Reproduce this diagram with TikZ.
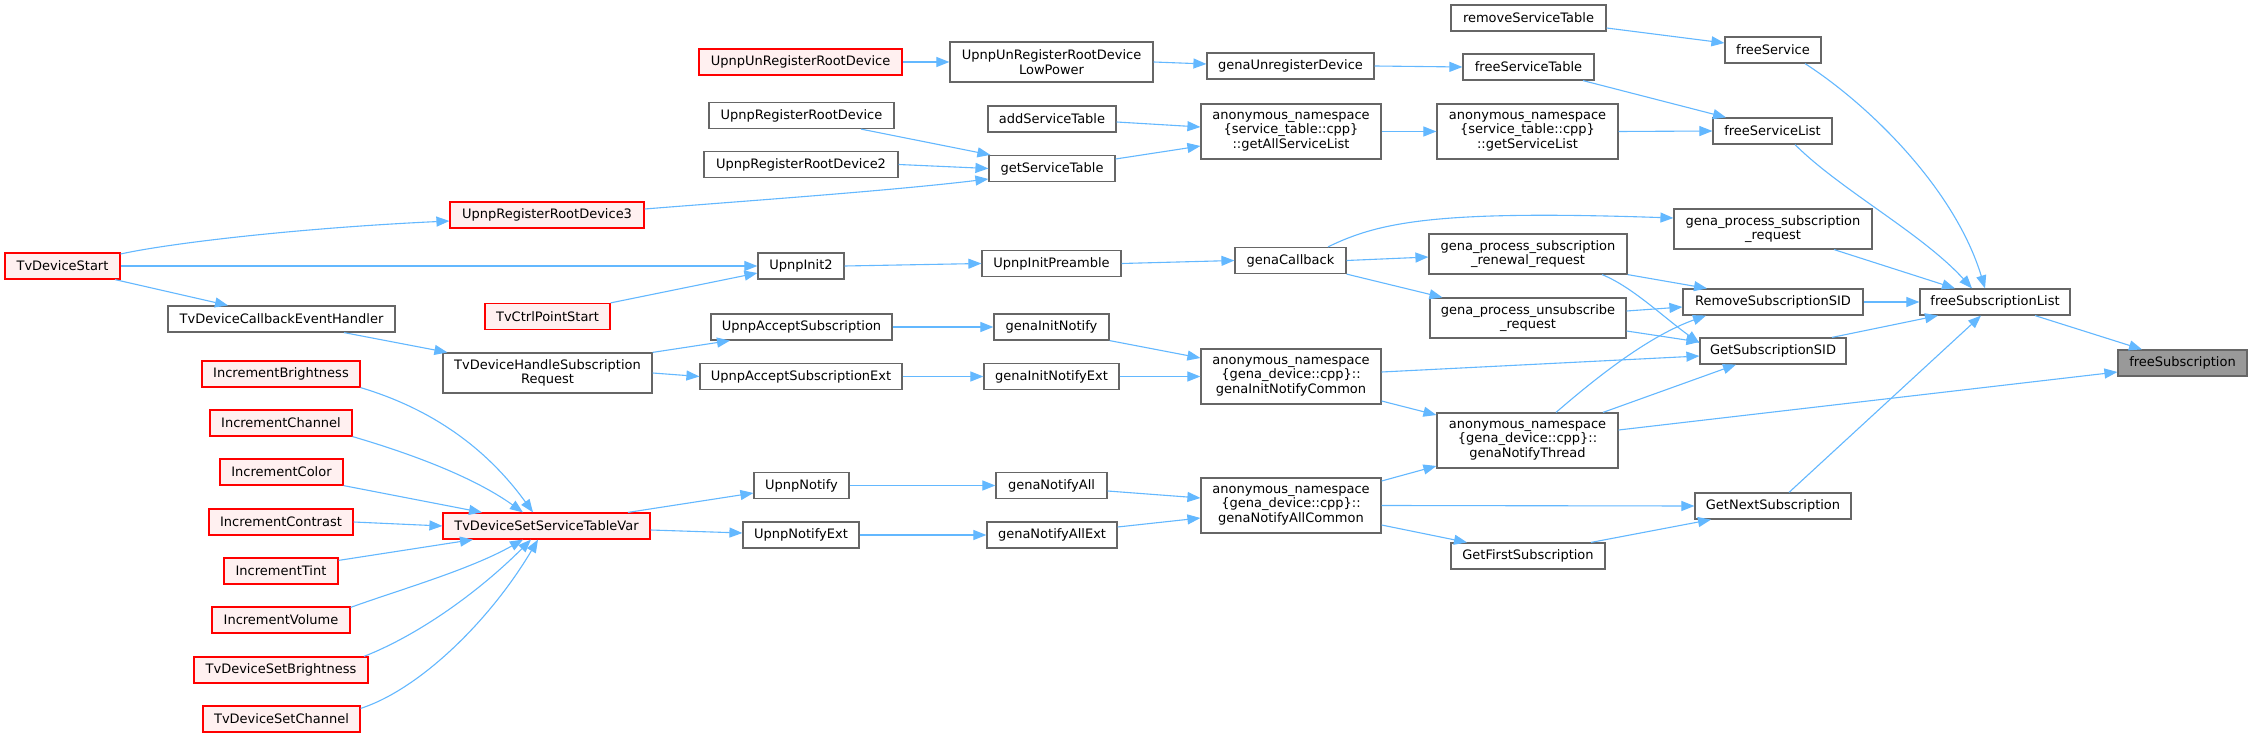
\documentclass[tikz,border=0pt]{standalone}
\usepackage{fontspec}
\setmainfont{DejaVu Sans}
\usetikzlibrary{arrows.meta,calc}
\definecolor{edgeblue}{HTML}{63B8FF}
\definecolor{nodegray}{HTML}{666666}
\definecolor{redfill}{HTML}{FFF0F0}
\definecolor{hlfill}{HTML}{999999}
\newcommand{\gnode}[7]{\node[#1, minimum width=#5*0.5pt, minimum height=#6*0.5pt] (#2) at (#3,#4) {#7};}
\begin{document}
\begin{tikzpicture}[x=0.5pt,y=-0.5pt,
  box/.style={draw=nodegray, fill=white, line width=0.6pt, inner sep=0pt, align=center, font=\fontsize{6.5}{7.25}\selectfont},
  redbox/.style={box, draw=red, fill=redfill},
  hlbox/.style={box, fill=hlfill},
  edge/.style={draw=edgeblue, line width=0.55pt, -{Triangle[length=6.5pt,width=5pt]}},
]
\fill[white] (0,0) rectangle (2252,737);
\useasboundingbox (0,0) rectangle (2252,737);

\gnode{hlbox}{fS}{2182.5}{363}{129}{26}{freeSubscription}
\gnode{box}{rST}{1528.5}{18}{155}{26}{removeServiceTable}
\gnode{box}{fSv}{1773}{50}{96}{26}{freeService}
\gnode{redbox}{uURD}{800.5}{62}{203}{26}{UpnpUnRegisterRootDevice}
\gnode{box}{uURDLP}{1051.5}{62}{203}{40}{UpnpUnRegisterRootDevice\\LowPower}
\gnode{box}{gUD}{1290.5}{66}{167}{26}{genaUnregisterDevice}
\gnode{box}{fST}{1528.5}{67}{131}{26}{freeServiceTable}
\gnode{box}{uRRD}{801.5}{115.5}{185}{26}{UpnpRegisterRootDevice}
\gnode{box}{aST}{1052}{119}{128}{26}{addServiceTable}
\gnode{box}{gASL}{1291}{131.5}{180}{55}{anonymous\_namespace\\\{service\_table::cpp\}\\::getAllServiceList}
\gnode{box}{gSL}{1527.5}{131.5}{181}{55}{anonymous\_namespace\\\{service\_table::cpp\}\\::getServiceList}
\gnode{box}{fSL}{1772.5}{131}{119}{26}{freeServiceList}
\gnode{box}{uRRD2}{801}{164.5}{194}{26}{UpnpRegisterRootDevice2}
\gnode{box}{gST}{1052}{168.5}{126}{26}{getServiceTable}
\gnode{redbox}{uRRD3}{547}{215}{194}{26}{UpnpRegisterRootDevice3}
\gnode{box}{gpsr}{1773}{229}{198}{40}{gena\_process\_subscription\\\_request}
\gnode{box}{gpsrr}{1528}{254}{198}{40}{gena\_process\_subscription\\\_renewal\_request}
\gnode{box}{gCb}{1290.5}{260.5}{111}{26}{genaCallback}
\gnode{box}{uI2}{801}{266}{86}{26}{UpnpInit2}
\gnode{box}{uIP}{1051.5}{263.5}{139}{26}{UpnpInitPreamble}
\gnode{redbox}{TDS}{62.5}{266}{115}{26}{TvDeviceStart}
\gnode{box}{gpur}{1528}{318}{196}{40}{gena\_process\_unsubscribe\\\_request}
\gnode{box}{RSS}{1773}{302}{180}{26}{RemoveSubscriptionSID}
\gnode{box}{fSubL}{1995}{302}{150}{26}{freeSubscriptionList}
\gnode{box}{TDCEH}{281.5}{319}{227}{26}{TvDeviceCallbackEventHandler}
\gnode{redbox}{TCPS}{547.5}{316.5}{125}{26}{TvCtrlPointStart}
\gnode{box}{uAS}{801.5}{327}{181}{26}{UpnpAcceptSubscription}
\gnode{box}{gIN}{1051.5}{327}{115}{26}{genaInitNotify}
\gnode{box}{GSS}{1773}{351}{146}{26}{GetSubscriptionSID}
\gnode{box}{gINC}{1291}{376.5}{180}{55}{anonymous\_namespace\\\{gena\_device::cpp\}::\\genaInitNotifyCommon}
\gnode{box}{TDHSR}{547.5}{373}{209}{40}{TvDeviceHandleSubscription\\Request}
\gnode{redbox}{IB}{281}{374}{158}{26}{IncrementBrightness}
\gnode{box}{uASE}{801}{376.5}{202}{26}{UpnpAcceptSubscriptionExt}
\gnode{box}{gINE}{1051.5}{376.5}{135}{26}{genaInitNotifyExt}
\gnode{redbox}{IC}{281}{423}{142}{26}{IncrementChannel}
\gnode{box}{gNT}{1527.5}{440.5}{181}{55}{anonymous\_namespace\\\{gena\_device::cpp\}::\\genaNotifyThread}
\gnode{redbox}{ICo}{281.5}{472}{123}{26}{IncrementColor}
\gnode{box}{uN}{801.5}{485.5}{95}{26}{UpnpNotify}
\gnode{box}{gNA}{1051.5}{485.5}{111}{26}{genaNotifyAll}
\gnode{box}{gNAC}{1291}{505.5}{180}{55}{anonymous\_namespace\\\{gena\_device::cpp\}::\\genaNotifyAllCommon}
\gnode{box}{GNS}{1773}{506}{156}{26}{GetNextSubscription}
\gnode{redbox}{ICt}{281}{522}{144}{26}{IncrementContrast}
\gnode{redbox}{TDSSTV}{546.5}{526}{207}{26}{TvDeviceSetServiceTableVar}
\gnode{box}{uNE}{801}{535}{116}{26}{UpnpNotifyExt}
\gnode{box}{gNAE}{1052}{535}{130}{26}{genaNotifyAllExt}
\gnode{box}{GFS}{1528}{556}{154}{26}{GetFirstSubscription}
\gnode{redbox}{IT}{281}{571}{114}{26}{IncrementTint}
\gnode{redbox}{IV}{281}{620}{138}{26}{IncrementVolume}
\gnode{redbox}{TDSB}{281}{670}{174}{26}{TvDeviceSetBrightness}
\gnode{redbox}{TDSC}{281.5}{719}{157}{26}{TvDeviceSetChannel}

% edges
\draw[edge] ($(rST.east)+(0,10)$) -- ($(fSv.west)+(0,-7)$);
\draw[edge] ($(fSv.south)+(32,0)$) .. controls +(65,42) and +(-30,-99) .. ($(fSubL.north)+(-10,0)$);
\draw[edge] (uURD.east) -- (uURDLP.west);
\draw[edge] (uURDLP.east) -- ($(gUD.west)+(0,-2)$);
\draw[edge] (gUD.east) -- (fST.west);
\draw[edge] ($(fST.south)+(54.5,0)$) -- ($(fSL.north)+(-46.5,0)$);
\draw[edge] ($(uRRD.south)+(59.5,0)$) -- ($(gST.north west)+(2,0)$);
\draw[edge] (uRRD2.east) -- (gST.west);
\draw[edge] ($(uRRD3.east)+(0,-6)$) .. controls +(100,-8) and +(-100,12) .. ($(gST.west)+(0,10.5)$);
\draw[edge] ($(aST.east)+(0,3)$) -- ($(gASL.west)+(0,-4.5)$);
\draw[edge] ($(gST.east)+(0,-9.5)$) -- ($(gASL.west)+(0,14.5)$);
\draw[edge] (gASL.east) -- (gSL.west);
\draw[edge] (gSL.east) -- (fSL.west);
\draw[edge] ($(fSL.south)+(22.5,0)$) .. controls +(45,45) and +(-50,-55) .. ($(fSubL.north)+(-23,0)$);
\draw[edge] ($(TDS.east)+(0,-12)$) .. controls +(50,-11) and +(-150,7) .. ($(uRRD3.west)+(0,6)$);
\draw[edge] (TDS.east) -- (uI2.west);
\draw[edge] ($(TDS.south)+(52.5,0)$) -- ($(TDCEH.north)+(-53.5,0)$);
\draw[edge] (TCPS.north east) -- ($(uI2.west)+(0,7)$);
\draw[edge] (uI2.east) -- (uIP.west);
\draw[edge] (uIP.east) -- (gCb.west);
\draw[edge] ($(gCb.north)+(37.5,0)$) .. controls +(52,-25.5) and +(-234,-8) .. ($(gpsr.west)+(0,-11)$);
\draw[edge] (gCb.east) -- ($(gpsrr.west)+(0,3)$);
\draw[edge] (gCb.south east) -- ($(gpur.north west)+(13,0)$);
\draw[edge] ($(gpsr.south)+(61,0)$) -- ($(fSubL.north)+(-40,0)$);
\draw[edge] (gpsrr.south east) -- ($(RSS.north)+(-66,0)$);
\draw[edge] ($(gpsrr.south)+(74,0)$) .. controls +(30,12) and +(-35,-25) .. ($(GSS.west)+(0,-8)$);
\draw[edge] ($(gpur.east)+(0,-7)$) -- ($(RSS.west)+(0,5)$);
\draw[edge] ($(gpur.east)+(0,13)$) -- ($(GSS.west)+(0,-9)$);
\draw[edge] (RSS.east) -- (fSubL.west);
\draw[edge] ($(GSS.north)+(59,0)$) -- ($(fSubL.south)+(-57,0)$);
\draw[edge] ($(fSubL.south)+(40,0)$) -- ($(fS.north)+(-40.5,0)$);
\draw[edge] ($(TDCEH.south)+(62.5,0)$) -- ($(TDHSR.north west)+(5,0)$);
\draw[edge] (TDHSR.north east) -- ($(uAS.south)+(-71.5,0)$);
\draw[edge] (TDHSR.east) -- (uASE.west);
\draw[edge] (uAS.east) -- (gIN.west);
\draw[edge] (uASE.east) -- (gINE.west);
\draw[edge] (gIN.south east) -- ($(gINC.west)+(0,-18.5)$);
\draw[edge] (gINE.east) -- (gINC.west);
\draw[edge] ($(gINC.east)+(0,-4.5)$) -- ($(GSS.west)+(0,5)$);
\draw[edge] ($(gINC.east)+(0,24.5)$) -- ($(gNT.west)+(0,-25.5)$);
\draw[edge] ($(gNT.north)+(28.5,0)$) .. controls +(44,-38) and +(-56,20) .. ($(RSS.south)+(-67,0)$);
\draw[edge] ($(gNT.north)+(75.5,0)$) -- ($(GSS.south)+(-37,0)$);
\draw[edge] ($(gNT.east)+(0,-10.5)$) -- ($(fS.west)+(0,9)$);
\draw[edge] ($(gNAC.east)+(0,-24.5)$) -- ($(gNT.west)+(0,25.5)$);
\draw[edge] (gNAC.east) -- (GNS.west);
\draw[edge] ($(gNAC.east)+(0,19.5)$) -- ($(GFS.north)+(-61,0)$);
\draw[edge] ($(GFS.north)+(63,0)$) -- ($(GNS.south)+(-62,0)$);
\draw[edge] ($(GNS.north)+(16,0)$) -- ($(fSubL.south)+(-14,0)$);
\draw[edge] (IB.south east) .. controls +(60,18) and +(-53,-73) .. ($(TDSSTV.north)+(-13.5,0)$);
\draw[edge] (IC.south east) .. controls +(48,14) and +(-53,-38) .. ($(TDSSTV.north)+(-23.5,0)$);
\draw[edge] (ICo.south east) -- ($(TDSSTV.north)+(-64.5,0)$);
\draw[edge] (ICt.east) -- (TDSSTV.west);
\draw[edge] ($(IT.north east)+(0,3)$) -- ($(TDSSTV.south)+(-73.5,0)$);
\draw[edge] ($(IV.north east)+(0,1)$) .. controls +(50,-18) and +(-53,30) .. ($(TDSSTV.south)+(-23.5,0)$);
\draw[edge] ($(TDSB.north)+(83,0)$) .. controls +(56,-22) and +(-51,51) .. ($(TDSSTV.south)+(-15.5,0)$);
\draw[edge] ($(TDSC.north east)+(0,3)$) .. controls +(59,-19) and +(-48,81) .. ($(TDSSTV.south)+(-8.5,0)$);
\draw[edge] ($(TDSSTV.north)+(81.5,0)$) -- ($(uN.west)+(0,7.5)$);
\draw[edge] ($(TDSSTV.east)+(0,4)$) -- ($(uNE.west)+(0,-2)$);
\draw[edge] (uN.east) -- (gNA.west);
\draw[edge] (uNE.east) -- (gNAE.west);
\draw[edge] ($(gNA.east)+(0,5.5)$) -- ($(gNAC.west)+(0,-7.5)$);
\draw[edge] ($(gNAE.east)+(0,-8)$) -- ($(gNAC.west)+(0,12.5)$);
\end{tikzpicture}
\end{document}
